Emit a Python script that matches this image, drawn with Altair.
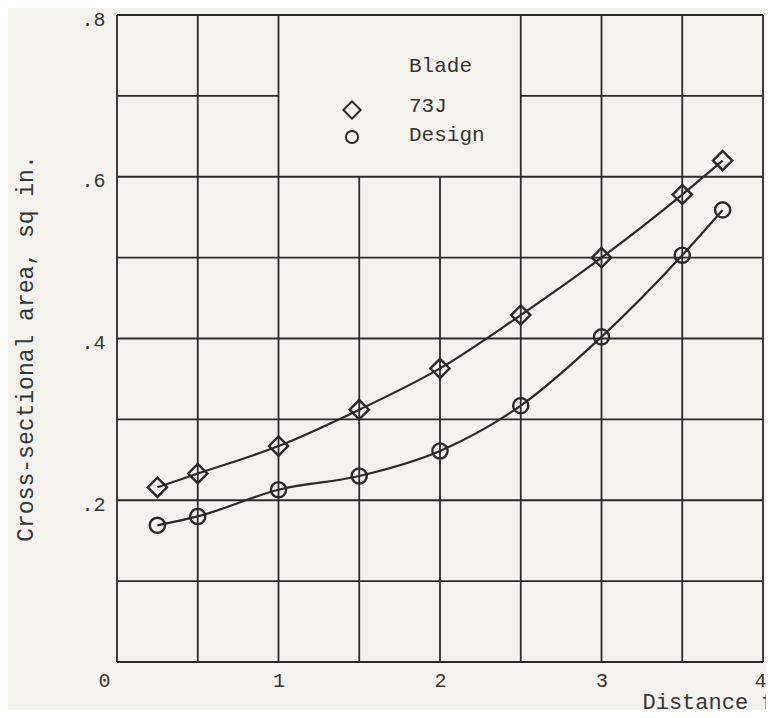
import altair as alt
import pandas as pd

# ---- data ----
x_pos = [0.25, 0.5, 1.0, 1.5, 2.0, 2.5, 3.0, 3.5, 3.75]
area_73j = [0.216, 0.233, 0.267, 0.312, 0.363, 0.429, 0.500, 0.578, 0.620]
area_design = [0.169, 0.180, 0.213, 0.230, 0.261, 0.317, 0.402, 0.503, 0.559]

x_ticks = [0, 1, 2, 3, 4]
y_ticks = [0.2, 0.4, 0.6, 0.8]

grid_x = [0, 0.5, 1.0, 1.5, 2.0, 2.5, 3.0, 3.5, 4.0]
grid_y = [0, 0.1, 0.2, 0.3, 0.4, 0.5, 0.6, 0.7, 0.8]

# legend box (grid left blank there)
box_x = [1.0, 2.5]
box_y = [0.6, 0.8]

legend_title = "Blade"
legend_labels = ["73J", "Design"]

INK = "#2a2a2a"
TXT = "#353535"
PAPER = "#f4f2ed"
FONT = "Liberation Mono"

# ---- grid segments ----
vseg = []
for gx in grid_x:
    if box_x[0] < gx < box_x[1]:
        vseg.append({"x": gx, "y": grid_y[0], "y2": box_y[0]})
    else:
        vseg.append({"x": gx, "y": grid_y[0], "y2": grid_y[-1]})
hseg = []
for gy in grid_y:
    if box_y[0] < gy < box_y[1]:
        hseg.append({"y": gy, "x": grid_x[0], "x2": box_x[0]})
        hseg.append({"y": gy, "x": box_x[1], "x2": grid_x[-1]})
    else:
        hseg.append({"y": gy, "x": grid_x[0], "x2": grid_x[-1]})
vdf = pd.DataFrame(vseg)
hdf = pd.DataFrame(hseg)

df = pd.DataFrame({
    "x": x_pos * 2,
    "y": area_73j + area_design,
    "series": [legend_labels[0]] * len(x_pos) + [legend_labels[1]] * len(x_pos),
})

xscale = alt.Scale(domain=[0, 4], nice=False, zero=False)
yscale = alt.Scale(domain=[0, 0.8], nice=False, zero=False)

x_axis = alt.Axis(
    values=x_ticks, ticks=False, domain=False, grid=False,
    labelFont=FONT, labelFontSize=20, labelColor=TXT, labelPadding=8,
    labelBaseline="top", labelFlush=False, labelOverlap=False,
    labelExpr="format(datum.value, 'd')",
    labelOffset={"condition": [
        {"test": "datum.value == 0", "value": -13},
        {"test": "datum.value == 4", "value": -3},
    ], "value": 0},
    title="Distance from root, in.", titleFont=FONT, titleFontSize=22,
    titleFontWeight="normal", titleColor=TXT, titleX=525, titleY=46,
    titleAlign="left", titleBaseline="alphabetic", titleAnchor="start",
)
y_axis = alt.Axis(
    values=y_ticks, ticks=False, domain=False, grid=False,
    labelFont=FONT, labelFontSize=20, labelColor=TXT, labelPadding=12,
    labelFlush=False, labelOverlap=False, labelOffset=4,
    labelExpr="'.' + round(datum.value * 10)",
    title="Cross-sectional area, sq in.", titleFont=FONT, titleFontSize=23,
    titleFontWeight="normal", titleColor=TXT, titleAngle=-90,
    titleX=-92, titleY=333, titleAlign="center", titleBaseline="middle",
)

vrules = alt.Chart(vdf).mark_rule(color=INK, strokeWidth=1.8).encode(
    x=alt.X("x:Q", scale=xscale, axis=x_axis),
    y=alt.Y("y:Q", scale=yscale, axis=y_axis),
    y2="y2:Q",
)
hrules = alt.Chart(hdf).mark_rule(color=INK, strokeWidth=1.8).encode(
    x=alt.X("x:Q", scale=xscale),
    x2="x2:Q",
    y=alt.Y("y:Q", scale=yscale),
)

lines = alt.Chart(df).mark_line(color=INK, strokeWidth=2.2, interpolate="monotone").encode(
    x=alt.X("x:Q", scale=xscale),
    y=alt.Y("y:Q", scale=yscale),
    detail="series:N",
)

diamonds = alt.Chart(df[df.series == legend_labels[0]]).mark_point(
    shape="diamond", size=370, filled=False, color=INK, strokeWidth=2.4, opacity=1
).encode(x=alt.X("x:Q", scale=xscale), y=alt.Y("y:Q", scale=yscale))

circles = alt.Chart(df[df.series == legend_labels[1]]).mark_point(
    shape="circle", size=230, filled=False, color=INK, strokeWidth=2.4, opacity=1
).encode(x=alt.X("x:Q", scale=xscale), y=alt.Y("y:Q", scale=yscale))


# ---- in-plot legend ----
def leg_txt(label, px, py):
    return alt.Chart(pd.DataFrame({"t": [label]})).mark_text(
        font=FONT, fontSize=21, color=TXT, align="left", baseline="middle"
    ).encode(x=alt.value(px), y=alt.value(py), text="t:N")


leg_title = leg_txt(legend_title, 292, 51)
leg_a = leg_txt(legend_labels[0], 292, 91)
leg_b = leg_txt(legend_labels[1], 292, 120)
leg_d = alt.Chart(pd.DataFrame({"t": [legend_labels[0]]})).mark_point(
    shape="diamond", size=300, filled=False, color=INK, strokeWidth=2, opacity=1
).encode(x=alt.value(235), y=alt.value(95))
leg_c = alt.Chart(pd.DataFrame({"t": [legend_labels[1]]})).mark_point(
    shape="circle", size=150, filled=False, color=INK, strokeWidth=2, opacity=1
).encode(x=alt.value(235), y=alt.value(122))

chart = alt.layer(
    vrules, hrules, lines, diamonds, circles, leg_title, leg_a, leg_b, leg_d, leg_c
).properties(
    width=646, height=647,
    autosize=alt.AutoSizeParams(type="none"),
    padding={"left": 109, "top": 7, "right": 3, "bottom": 48},
    background=PAPER,
).configure_view(stroke=None)

chart.save("out.html", embed_options={"renderer": "svg", "actions": False})
